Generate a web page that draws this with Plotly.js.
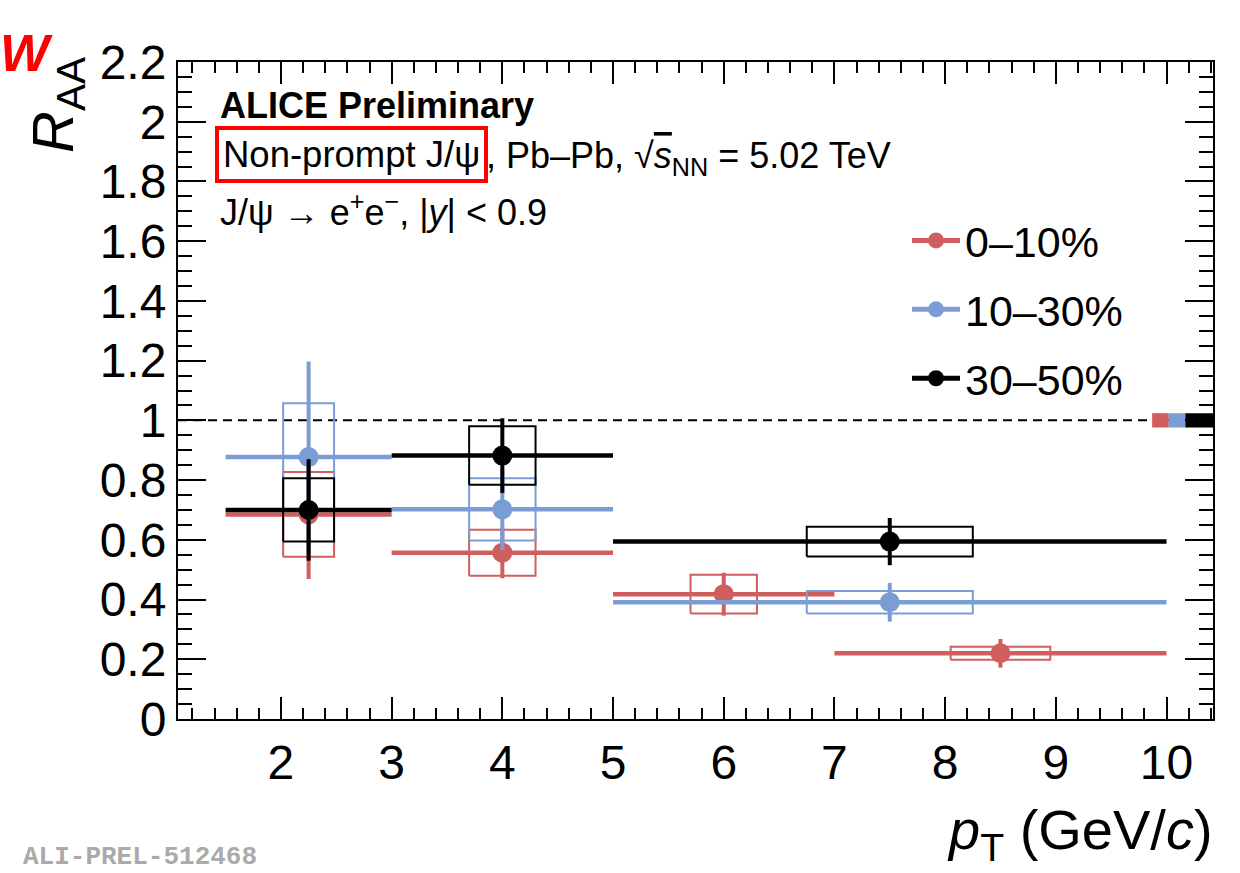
<!DOCTYPE html>
<html>
<head>
<meta charset="utf-8">
<script src="https://cdn.plot.ly/plotly-3.0.1.min.js"></script>
<style>html,body{margin:0;padding:0;background:#fff;}#chart{width:1240px;height:873px;}</style>
</head>
<body>
<div id="chart"></div>
<script>
// ---- data ----
const seriesNames = ['0\u201310%', '10\u201330%', '30\u201350%'];
const seriesColors = ['rgb(208,94,94)', 'rgb(123,157,213)', 'rgb(0,0,0)'];

// 0-10%
const ptCent0 = [2.25, 4, 6, 8.5];
const ptHalfBin0 = [0.75, 1, 1, 1.5];
const raa0 = [0.685, 0.557, 0.418, 0.220];
const stat0 = [0.216, 0.086, 0.072, 0.048];
const syst0 = [0.142, 0.077, 0.065, 0.022];
const boxHalfW0 = [0.23, 0.30, 0.30, 0.45];

// 10-30%
const ptCent1 = [2.25, 4, 7.5];
const ptHalfBin1 = [0.75, 1, 2.5];
const raa1 = [0.877, 0.702, 0.391];
const stat1 = [0.320, 0.136, 0.065];
const syst1 = [0.180, 0.104, 0.038];
const boxHalfW1 = [0.23, 0.30, 0.75];

// 30-50%
const ptCent2 = [2.25, 4, 7.5];
const ptHalfBin2 = [0.75, 1, 2.5];
const raa2 = [0.700, 0.882, 0.594];
const stat2 = [0.170, 0.125, 0.079];
const syst2 = [0.106, 0.098, 0.050];
const boxHalfW2 = [0.23, 0.30, 0.75];

// global (normalisation) uncertainties, drawn at R_AA = 1
const globalUnc = [0.024, 0.024, 0.024];

const xTickVals = [2, 3, 4, 5, 6, 7, 8, 9, 10];

// ---- geometry helpers ----
const L = 178, R = 1213, T = 62, B = 719;
const PW = R - L, PH = B - T;
const px = x => (x - L) / PW;
const py = y => (B - y) / PH;

const series = [
  {x: ptCent0, ex: ptHalfBin0, y: raa0, stat: stat0, syst: syst0, bw: boxHalfW0},
  {x: ptCent1, ex: ptHalfBin1, y: raa1, stat: stat1, syst: syst1, bw: boxHalfW1},
  {x: ptCent2, ex: ptHalfBin2, y: raa2, stat: stat2, syst: syst2, bw: boxHalfW2}
];

const traces = [];
const FONT = 'Liberation Sans, Arial, Helvetica, sans-serif';

// normalisation boxes near pT = 10
const normStart = 9.87, normW = 0.15;
series.forEach((s, i) => {
  const x0 = normStart + i * normW;
  const x1 = (i === series.length - 1) ? x0 + 0.4 : x0 + normW;
  const u = globalUnc[i];
  traces.push({
    type: 'scatter', mode: 'lines', x: [x0, x1, x1, x0, x0], y: [1 - u, 1 - u, 1 + u, 1 + u, 1 - u],
    fill: 'toself', fillcolor: seriesColors[i], line: {width: 0, color: seriesColors[i]},
    showlegend: false, hoverinfo: 'skip'
  });
});

series.forEach((s, i) => {
  // systematic boxes
  const bx = [], by = [];
  s.x.forEach((xc, k) => {
    const w = s.bw[k], lo = s.y[k] - s.syst[k], hi = s.y[k] + s.syst[k];
    bx.push(xc - w, xc + w, xc + w, xc - w, xc - w, null);
    by.push(lo, lo, hi, hi, lo, null);
  });
  traces.push({
    type: 'scatter', mode: 'lines', x: bx, y: by,
    line: {color: seriesColors[i], width: 2}, showlegend: false, hoverinfo: 'skip'
  });
  // points with stat. errors and bin widths
  traces.push({
    type: 'scatter', mode: 'markers', x: s.x, y: s.y,
    marker: {color: seriesColors[i], size: 20, symbol: 'circle'},
    error_x: {type: 'data', array: s.ex, symmetric: true, color: seriesColors[i], thickness: 4.5, width: 0},
    error_y: {type: 'data', array: s.stat, symmetric: true, color: seriesColors[i], thickness: 4, width: 0},
    showlegend: false, name: seriesNames[i]
  });
});

// legend entries
series.forEach((s, i) => {
  traces.push({
    type: 'scatter', mode: 'lines+markers', x: [null], y: [null], name: seriesNames[i],
    legendgroup: 'g' + i,
    line: {color: seriesColors[i], width: 5}, marker: {color: seriesColors[i], size: 20}
  });
});

const axisCommon = {
  showline: true, linecolor: '#000', linewidth: 2, mirror: 'ticks',
  ticks: 'inside', tickcolor: '#000', tickwidth: 2,
  showgrid: false, zeroline: false,
  tickfont: {family: FONT, size: 48, color: '#000'}
};

const layout = {
  width: 1240, height: 873,
  margin: {l: L, r: 1240 - R, t: T, b: 873 - B, pad: 0},
  paper_bgcolor: '#fff', plot_bgcolor: '#fff',
  showlegend: true,
  legend: {
    x: px(907), xanchor: 'left', y: py(206), yanchor: 'top',
    font: {family: FONT, size: 43, color: '#000'},
    bgcolor: 'rgba(0,0,0,0)', tracegroupgap: 10, itemwidth: 48, traceorder: 'grouped'
  },
  xaxis: Object.assign({}, axisCommon, {
    range: [1.07, 10.42], tickmode: 'array', tickvals: xTickVals, ticktext: xTickVals.map(String),
    ticklen: 22, minor: {dtick: 0.2, tick0: 0, ticklen: 11, tickwidth: 2, tickcolor: '#000', ticks: 'inside'}
  }),
  yaxis: Object.assign({}, axisCommon, {
    range: [0, 2.2], dtick: 0.2, tick0: 0, ticklen: 28,
    minor: {dtick: 0.05, tick0: 0, ticklen: 14, tickwidth: 2, tickcolor: '#000', ticks: 'inside'}
  }),
  shapes: [
    {type: 'line', xref: 'paper', x0: 0, x1: 1, yref: 'y', y0: 1, y1: 1,
     line: {color: '#000', width: 2, dash: '9px,6px'}, layer: 'below'}
  ],
  annotations: [
    {xref: 'paper', yref: 'paper', x: px(18), y: py(55), xanchor: 'left', yanchor: 'top',
     text: '<i>R</i><sub>AA</sub>', textangle: -90, showarrow: false,
     font: {family: FONT, size: 58, color: '#000'}},
    {xref: 'paper', yref: 'paper', x: px(1215), y: py(833), xanchor: 'right', yanchor: 'middle',
     text: '<i>p</i><sub>T</sub> (GeV/<i>c</i>)', showarrow: false,
     font: {family: FONT, size: 56, color: '#000'}},
    {xref: 'paper', yref: 'paper', x: px(218), y: py(105), xanchor: 'left', yanchor: 'middle',
     text: '<b>ALICE Preliminary</b>', showarrow: false,
     font: {family: FONT, size: 36, color: '#000'}},
    {xref: 'paper', yref: 'paper', x: px(215), y: py(154), xanchor: 'left', yanchor: 'middle',
     text: 'Non-prompt J/\u03C8', showarrow: false, bordercolor: 'rgb(255,0,0)', borderwidth: 4, borderpad: 4,
     font: {family: FONT, size: 36.5, color: '#000'}},
    {xref: 'paper', yref: 'paper', x: px(484), y: py(158), xanchor: 'left', yanchor: 'middle',
     text: ', Pb\u2013Pb, \u221A<span style="text-decoration:overline"><i>s</i></span><sub>NN</sub> = 5.02 TeV', showarrow: false,
     font: {family: FONT, size: 36, color: '#000'}},
    {xref: 'paper', yref: 'paper', x: px(218), y: py(210), xanchor: 'left', yanchor: 'middle',
     text: 'J/\u03C8 \u2192 e<sup>+</sup>e<sup>\u2212</sup>, |<i>y</i>| &lt; 0.9', showarrow: false,
     font: {family: FONT, size: 36, color: '#000'}},
    {xref: 'paper', yref: 'paper', x: px(-1), y: py(53), xanchor: 'left', yanchor: 'middle',
     text: '<b><i>W</i></b>', showarrow: false, borderpad: 0,
     font: {family: FONT, size: 52, color: 'rgb(255,0,0)'}},
    {xref: 'paper', yref: 'paper', x: px(22), y: py(873), xanchor: 'left', yanchor: 'bottom',
     text: '<b>ALI-PREL-512468</b>', showarrow: false, borderpad: 0,
     font: {family: 'Liberation Mono, Courier New, monospace', size: 26, color: 'rgb(170,170,170)'}}
  ]
};

Plotly.newPlot('chart', traces, layout, {staticPlot: true, displayModeBar: false});
</script>
</body>
</html>
